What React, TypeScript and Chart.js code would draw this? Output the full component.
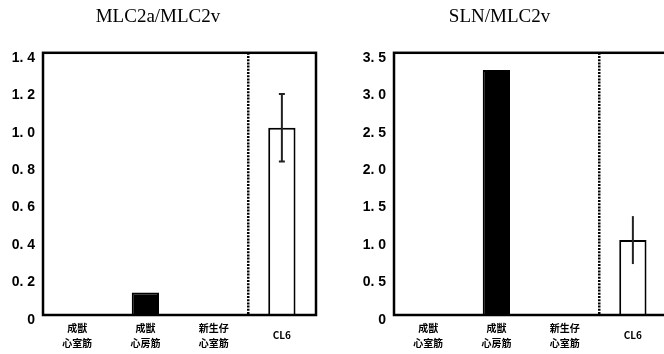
import React, { useEffect, useRef } from "react";
import { Chart, registerables } from "chart.js";

Chart.register(...registerables);

// ---- data ----
const categories: (string | string[])[] = [
  ["成獣", "心室筋"],
  ["成獣", "心房筋"],
  ["新生仔", "心室筋"],
  "CL6",
];
const barFill = ["#000000", "#000000", "#000000", "#ffffff"];

const mlcTitle = "MLC2a/MLC2v";
const mlcValues = [0, 0.12, 0, 1.0];
const mlcErrors = [0, 0, 0, 0.18];
const mlcMax = 1.4;
const mlcStep = 0.2;

const slnTitle = "SLN/MLC2v";
const slnValues = [0, 3.27, 0, 1.0];
const slnErrors = [0, 0, 0, 0.32];
const slnMax = 3.5;
const slnStep = 0.5;

type PanelProps = {
  title: string;
  values: number[];
  errors: number[];
  max: number;
  step: number;
  left: number;
  width: number;
  yAxisWidth: number;
  padRight: number;
  capWidth: number;
};

const fmtTick = (v: number) => (v === 0 ? "0" : v.toFixed(1).replace(".", ". "));

function Panel(p: PanelProps) {
  const ref = useRef<HTMLCanvasElement | null>(null);
  useEffect(() => {
    if (!ref.current) return;
    const frame = {
      id: "frame",
      afterDraw(chart: any) {
        const { ctx, chartArea: a } = chart;
        ctx.save();
        ctx.strokeStyle = "#000";
        ctx.lineWidth = 2.5;
        ctx.strokeRect(a.left, a.top, a.right - a.left, a.bottom - a.top);
        ctx.restore();
      },
    };
    const errorBars = {
      id: "errorBars",
      afterDatasetsDraw(chart: any) {
        const { ctx } = chart;
        const meta = chart.getDatasetMeta(0);
        const ys = chart.scales.y;
        ctx.save();
        ctx.strokeStyle = "#222";
        ctx.lineWidth = 2;
        p.errors.forEach((e, i) => {
          if (!e) return;
          const x = meta.data[i].x;
          const hi = ys.getPixelForValue(p.values[i] + e);
          const lo = ys.getPixelForValue(p.values[i] - e);
          ctx.beginPath();
          ctx.moveTo(x, hi);
          ctx.lineTo(x, lo);
          if (p.capWidth > 0) {
            ctx.moveTo(x - p.capWidth / 2, hi);
            ctx.lineTo(x + p.capWidth / 2, hi);
            ctx.moveTo(x - p.capWidth / 2, lo);
            ctx.lineTo(x + p.capWidth / 2, lo);
          }
          ctx.stroke();
        });
        ctx.restore();
      },
    };
    const chart = new Chart(ref.current, {
      type: "bar",
      data: {
        labels: categories,
        datasets: [
          {
            data: p.values,
            backgroundColor: barFill,
            borderColor: "#000",
            borderWidth: 2,
            categoryPercentage: 1,
            barPercentage: 0.4,
          },
        ],
      },
      options: {
        animation: false,
        responsive: false,
        maintainAspectRatio: false,
        layout: { padding: { left: 0, right: p.padRight, top: 0, bottom: 0 } },
        plugins: {
          legend: { display: false },
          tooltip: { enabled: false },
          title: {
            display: true,
            text: p.title,
            color: "#000",
            font: { family: "'Liberation Serif', serif", size: 19, weight: "normal", lineHeight: 1.2 },
            padding: { top: 6, bottom: 24 },
          },
        },
        scales: {
          x: {
            grid: {
              display: true,
              offset: true,
              drawTicks: false,
              lineWidth: 2.5,
              color: (c: any) => (c.index === 3 ? "#000" : "rgba(0,0,0,0)"),
            },
            border: { display: false, dash: [2, 1.2] },
            ticks: {
              color: "#000",
              padding: 13,
              crossAlign: "center",
              maxRotation: 0,
              autoSkip: false,
              font: { family: "'Noto Sans CJK JP', sans-serif", size: 10, weight: "bold", lineHeight: 1.5 },
            },
            afterFit: (s: any) => {
              s.height = 39;
            },
          },
          y: {
            min: 0,
            max: p.max,
            grid: { display: false, drawTicks: false },
            border: { display: false },
            ticks: {
              stepSize: p.step,
              color: "#000",
              padding: 8,
              labelOffset: 5,
              font: { family: "'Liberation Sans', sans-serif", size: 14, weight: "bold" },
              callback: (v: any) => fmtTick(Number(v)),
            },
            afterFit: (s: any) => {
              s.width = p.yAxisWidth;
            },
          },
        },
      },
      plugins: [frame, errorBars],
    } as any);
    return () => chart.destroy();
  }, []);
  return (
    <canvas
      ref={ref}
      width={p.width}
      height={354}
      style={{ position: "absolute", left: p.left, top: 0, width: p.width, height: 354 }}
    />
  );
}

export default function App() {
  return (
    <div
      style={{
        position: "absolute",
        left: 0,
        top: 0,
        width: 664,
        height: 354,
        overflow: "hidden",
        background: "#fff",
      }}
    >
      <Panel
        title={mlcTitle}
        values={mlcValues}
        errors={mlcErrors}
        max={mlcMax}
        step={mlcStep}
        left={0}
        width={318}
        yAxisWidth={43}
        padRight={2}
        capWidth={6}
      />
      <Panel
        title={slnTitle}
        values={slnValues}
        errors={slnErrors}
        max={slnMax}
        step={slnStep}
        left={332}
        width={394}
        yAxisWidth={62}
        padRight={59}
        capWidth={0}
      />
    </div>
  );
}
